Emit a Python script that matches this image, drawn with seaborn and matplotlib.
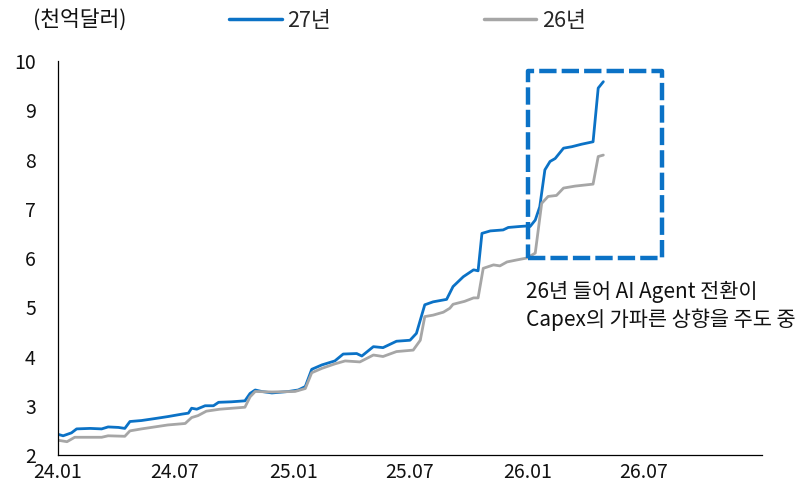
import matplotlib
matplotlib.use("Agg")
import matplotlib.pyplot as plt
import matplotlib.dates as mdates
from matplotlib.patches import Rectangle
import pandas as pd
import seaborn as sns

# 빅테크 Capex 컨센서스 추이 (단위: 천억달러)
dates_27 = [
    "2024-01-01", "2024-01-09", "2024-01-22", "2024-01-30", "2024-02-20", "2024-03-09",
    "2024-03-19", "2024-04-04", "2024-04-14", "2024-04-22", "2024-05-10", "2024-05-31",
    "2024-06-20", "2024-07-12", "2024-07-22", "2024-07-27", "2024-08-04", "2024-08-17",
    "2024-08-30", "2024-09-07", "2024-09-27", "2024-10-18", "2024-10-26", "2024-11-03",
    "2024-11-13", "2024-11-29", "2024-12-25", "2025-01-09", "2025-01-20", "2025-01-30",
    "2025-02-15", "2025-02-25", "2025-03-07", "2025-03-20", "2025-04-10", "2025-04-18",
    "2025-05-06", "2025-05-21", "2025-06-11", "2025-07-02", "2025-07-12", "2025-07-25",
    "2025-08-07", "2025-08-28", "2025-09-07", "2025-09-23", "2025-10-09", "2025-10-16",
    "2025-10-22", "2025-11-04", "2025-11-24", "2025-12-02", "2025-12-20", "2025-12-31",
    "2026-01-05", "2026-01-13", "2026-01-20", "2026-01-28", "2026-02-05", "2026-02-13",
    "2026-02-26", "2026-03-11", "2026-03-26", "2026-04-13", "2026-04-21", "2026-04-29",
]
capex_27 = [
    2.42, 2.39, 2.45, 2.53, 2.54, 2.53,
    2.57, 2.56, 2.54, 2.68, 2.70, 2.74,
    2.78, 2.83, 2.85, 2.95, 2.93, 3.00,
    3.00, 3.07, 3.08, 3.10, 3.25, 3.32,
    3.29, 3.26, 3.29, 3.32, 3.39, 3.74,
    3.83, 3.87, 3.91, 4.05, 4.06, 4.01,
    4.20, 4.18, 4.31, 4.33, 4.47, 5.05,
    5.11, 5.16, 5.42, 5.62, 5.76, 5.74,
    6.50, 6.55, 6.57, 6.62, 6.64, 6.65,
    6.64, 6.77, 7.04, 7.79, 7.96, 8.02,
    8.23, 8.26, 8.31, 8.36, 9.45, 9.58,
]

dates_26 = [
    "2024-01-01", "2024-01-15", "2024-01-27", "2024-03-09", "2024-03-19", "2024-04-14",
    "2024-04-22", "2024-05-10", "2024-06-20", "2024-07-17", "2024-07-27", "2024-08-06",
    "2024-08-19", "2024-09-09", "2024-10-18", "2024-10-26", "2024-11-03", "2024-11-29",
    "2025-01-04", "2025-01-20", "2025-01-30", "2025-02-15", "2025-03-07", "2025-03-23",
    "2025-04-15", "2025-05-06", "2025-05-21", "2025-06-11", "2025-07-07", "2025-07-18",
    "2025-07-25", "2025-08-07", "2025-08-23", "2025-09-02", "2025-09-07", "2025-09-25",
    "2025-10-09", "2025-10-16", "2025-10-24", "2025-11-09", "2025-11-19", "2025-11-30",
    "2025-12-15", "2025-12-31", "2026-01-13", "2026-01-23", "2026-02-02", "2026-02-15",
    "2026-02-26", "2026-03-16", "2026-04-13", "2026-04-21", "2026-04-29",
]
capex_26 = [
    2.30, 2.27, 2.36, 2.36, 2.39, 2.38,
    2.49, 2.53, 2.61, 2.64, 2.76, 2.80,
    2.89, 2.93, 2.97, 3.18, 3.29, 3.28,
    3.29, 3.35, 3.67, 3.76, 3.85, 3.91,
    3.89, 4.03, 4.00, 4.10, 4.13, 4.33,
    4.81, 4.84, 4.90, 4.98, 5.06, 5.12,
    5.19, 5.19, 5.79, 5.86, 5.84, 5.92,
    5.96, 6.00, 6.10, 7.11, 7.25, 7.27,
    7.42, 7.46, 7.50, 8.06, 8.09,
]

series_names = ["27년", "26년"]
series_colors = ["#0B72C6", "#A6A6A6"]

tick_dates = ["2024-01-01", "2024-07-01", "2025-01-01", "2025-07-01", "2026-01-01", "2026-07-01"]
tick_labels = ["24.01", "24.07", "25.01", "25.07", "26.01", "26.07"]
y_ticks = [2, 3, 4, 5, 6, 7, 8, 9, 10]

unit_label = "(천억달러)"
note_text = "26년 들어 AI Agent 전환이\nCapex의 가파른 상향을 주도 중"

# 강조 박스 범위 (날짜, 값)
box_start, box_end = "2026-01-01", "2026-07-30"
box_low, box_high = 5.99, 9.80

df = pd.concat([
    pd.DataFrame({"date": pd.to_datetime(dates_27), "capex": capex_27, "series": series_names[0]}),
    pd.DataFrame({"date": pd.to_datetime(dates_26), "capex": capex_26, "series": series_names[1]}),
], ignore_index=True)

sns.set_theme(style="white")
plt.rcParams["font.family"] = ["Noto Sans CJK KR", "DejaVu Sans"]
plt.rcParams["axes.unicode_minus"] = False

fig = plt.figure(figsize=(8.01, 4.98), dpi=100)
ax = fig.add_axes([58 / 801, 1 - 455 / 498, (762 - 58) / 801, (455 - 61) / 498])

sns.lineplot(
    data=df, x="date", y="capex", hue="series", hue_order=series_names,
    palette=dict(zip(series_names, series_colors)), linewidth=2.0,
    estimator=None, sort=True, ax=ax,
)

ax.set_xlim(pd.Timestamp("2024-01-01"), pd.Timestamp("2027-01-01"))
ax.set_ylim(2, 10)
ax.set_xticks(pd.to_datetime(tick_dates))
ax.set_xticklabels(tick_labels)
ax.set_yticks(y_ticks)
ax.set_yticklabels([str(v) for v in y_ticks])
ax.set_xlabel("")
ax.set_ylabel("")

for side in ["top", "right"]:
    ax.spines[side].set_visible(False)
for side in ["left", "bottom"]:
    ax.spines[side].set_color("#000000")
    ax.spines[side].set_linewidth(0.9)

ax.tick_params(axis="both", direction="in", length=6, width=0.9, color="#333333",
               labelsize=14, labelcolor="#111111")
ax.tick_params(axis="y", pad=16)
ax.tick_params(axis="x", pad=5)

# 강조 박스
rx0 = mdates.date2num(pd.Timestamp(box_start))
rx1 = mdates.date2num(pd.Timestamp(box_end))
rect = Rectangle((rx0, box_low), rx1 - rx0, box_high - box_low, fill=False,
                 edgecolor="#0B72C6", linewidth=3.2, linestyle=(0, (3.9, 1.15)),
                 joinstyle="round", zorder=5, clip_on=False)
ax.add_patch(rect)

ax.text(mdates.date2num(pd.Timestamp("2025-12-29")), 5.53, note_text, fontsize=15,
        color="#111111", ha="left", va="top", linespacing=1.3)

# 범례 및 단위
handles, labels = ax.get_legend_handles_labels()
for h in handles:
    h.set_linewidth(2.5)
ax.legend(handles, labels, ncol=2, frameon=False, loc="center left",
          bbox_to_anchor=(229 / 801, 1 - 21 / 498), bbox_transform=fig.transFigure,
          fontsize=15.5, handlelength=2.45, handletextpad=0.25, columnspacing=7.1,
          borderaxespad=0, borderpad=0)

fig.text(33 / 801, 1 - 20 / 498, unit_label, fontsize=15.5, color="#111111",
         ha="left", va="center")

fig.savefig("out.png", dpi=100)
